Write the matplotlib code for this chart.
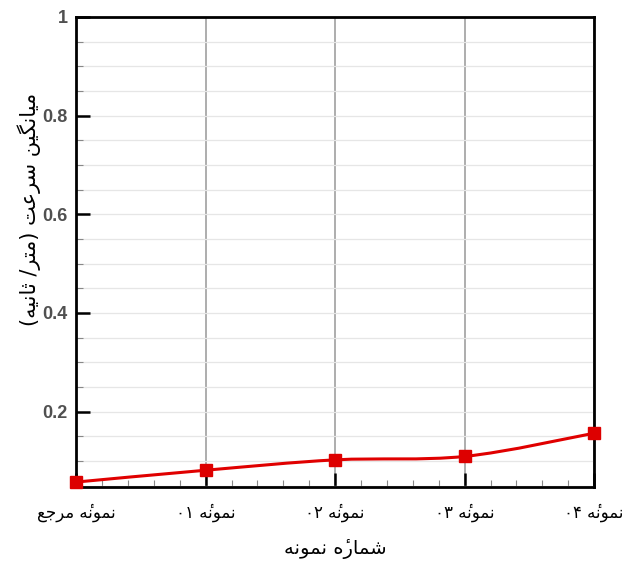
import numpy as np
import matplotlib
matplotlib.use("Agg")
import matplotlib.pyplot as plt
from matplotlib.path import Path
from matplotlib.patches import PathPatch
from matplotlib.ticker import MultipleLocator, AutoMinorLocator

# data
samples = ["نمونهٔ مرجع", "نمونهٔ ۰۱", "نمونهٔ ۰۲", "نمونهٔ ۰۳", "نمونهٔ ۰۴"]
mean_speed = [0.057, 0.081, 0.102, 0.109, 0.156]
y_ticks = [0.2, 0.4, 0.6, 0.8, 1.0]
y_tick_labels = ["0.2", "0.4", "0.6", "0.8", "1"]
x_title = "شمارهٔ نمونه"
y_title = "میانگین سرعت (متر/ ثانیه)"

# matplotlib has no arabic shaping -> do contextual forms + visual order by hand
FORMS = {
    'ا': ('\uFE8D', '\uFE8E'),
    'ت': ('\uFE95', '\uFE96', '\uFE97', '\uFE98'),
    'ث': ('\uFE99', '\uFE9A', '\uFE9B', '\uFE9C'),
    'ج': ('\uFE9D', '\uFE9E', '\uFE9F', '\uFEA0'),
    'ر': ('\uFEAD', '\uFEAE'),
    'س': ('\uFEB1', '\uFEB2', '\uFEB3', '\uFEB4'),
    'ش': ('\uFEB5', '\uFEB6', '\uFEB7', '\uFEB8'),
    'ع': ('\uFEC9', '\uFECA', '\uFECB', '\uFECC'),
    'م': ('\uFEE1', '\uFEE2', '\uFEE3', '\uFEE4'),
    'ن': ('\uFEE5', '\uFEE6', '\uFEE7', '\uFEE8'),
    'ه': ('\uFEE9', '\uFEEA', '\uFEEB', '\uFEEC'),
    'و': ('\uFEED', '\uFEEE'),
    'ی': ('\uFBFC', '\uFBFD', '\uFBFE', '\uFBFF'),
    'گ': ('\uFB92', '\uFB93', '\uFB94', '\uFB95'),
}
MARKS = {'\u0654'}
MIRROR = {'(': ')', ')': '('}


def rtl(text):
    chars = list(text)
    shaped = []
    for i, c in enumerate(chars):
        if c not in FORMS:
            shaped.append(c)
            continue
        j = i - 1
        while j >= 0 and chars[j] in MARKS:
            j -= 1
        k = i + 1
        while k < len(chars) and chars[k] in MARKS:
            k += 1
        prev = chars[j] if j >= 0 else ''
        nxt = chars[k] if k < len(chars) else ''
        f = FORMS[c]
        cp = prev in FORMS and len(FORMS[prev]) == 4
        cn = len(f) == 4 and nxt in FORMS
        if cp and cn:
            shaped.append(f[3])
        elif cp:
            shaped.append(f[1])
        elif cn:
            shaped.append(f[2])
        else:
            shaped.append(f[0])
    items = []
    for c in shaped:
        if c in MARKS and items:
            items[-1] += c
        elif c.isdigit() and items and items[-1][-1].isdigit():
            items[-1] += c
        else:
            items.append(MIRROR.get(c, c))
    return ''.join(reversed(items))


plt.rcParams['font.family'] = ['DejaVu Sans']

fig = plt.figure(figsize=(6.3, 5.63), dpi=100)
ax = fig.add_axes([0.121, 0.135, 0.822, 0.835])

x = np.arange(len(samples))
y = np.array(mean_speed)

# smooth curve through the points (catmull-rom as bezier segments)
verts = [(x[0], y[0])]
codes = [Path.MOVETO]
px = np.concatenate([[x[0]], x, [x[-1]]])
py = np.concatenate([[y[0]], y, [y[-1]]])
for i in range(1, len(px) - 2):
    c1 = (px[i] + (px[i + 1] - px[i - 1]) / 6, py[i] + (py[i + 1] - py[i - 1]) / 6)
    c2 = (px[i + 1] - (px[i + 2] - px[i]) / 6, py[i + 1] - (py[i + 2] - py[i]) / 6)
    verts += [c1, c2, (px[i + 1], py[i + 1])]
    codes += [Path.CURVE4] * 3
ax.add_patch(PathPatch(Path(verts, codes), fill=False, edgecolor='#e00000',
                       lw=2.2, zorder=4, clip_on=False))
ax.plot(x, y, 's', color='#dd0000', ms=9, zorder=5, clip_on=False)

ax.set_xlim(0, len(samples) - 1)
ax.set_ylim(0.047, 1.0)

ax.set_xticks(x)
ax.set_xticklabels([rtl(s) for s in samples], fontsize=12)
ax.xaxis.set_minor_locator(AutoMinorLocator(5))
ax.set_yticks(y_ticks)
ax.set_yticklabels(y_tick_labels, fontsize=13, fontweight='bold', color='#505050',
                   family='Liberation Sans')
ax.yaxis.set_minor_locator(MultipleLocator(0.05))

ax.tick_params(axis='both', which='major', direction='in', length=10, width=1.8)
ax.tick_params(axis='both', which='minor', direction='in', length=5, width=0.8,
               color='#888888')
ax.tick_params(axis='x', which='major', pad=12)
ax.tick_params(axis='y', which='major', pad=6)

ax.grid(which='both', axis='y', color='#e6e6e6', lw=0.9)
ax.grid(which='major', axis='x', color='#a0a0a0', lw=1.2)
ax.set_axisbelow(True)

for s in ax.spines.values():
    s.set_linewidth(2)

ax.set_xlabel(rtl(x_title), fontsize=14, labelpad=12)
ax.set_ylabel(rtl(y_title), fontsize=15, labelpad=4)
ax.yaxis.set_label_coords(-0.068, 0.59)

fig.savefig('out.png', dpi=100)
